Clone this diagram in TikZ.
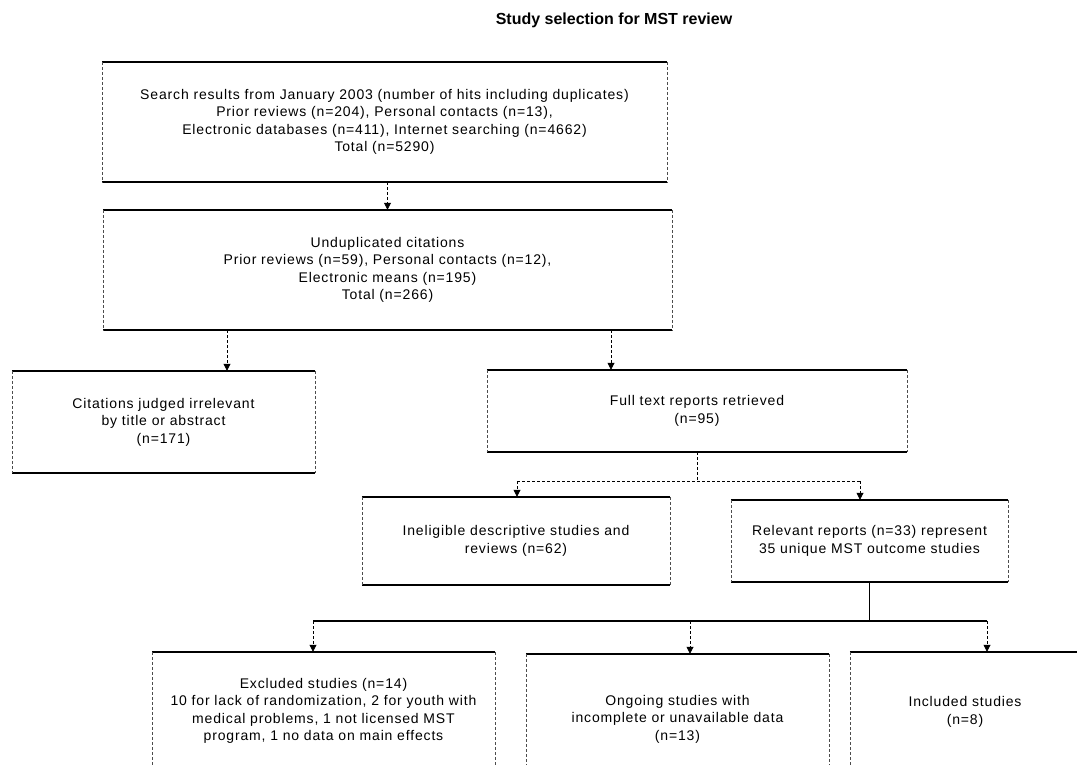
\documentclass[tikz,border=0pt]{standalone}
\usepackage{fontspec}
\setmainfont{Liberation Sans}
\usetikzlibrary{arrows.meta}
\newfontfamily\boxfontfam[LetterSpace=6]{Liberation Sans}
\newfontfamily\titlefontfam{Liberation Sans}
\newcommand\frameit[1]{%
  \draw[edgeline] (#1.north west) -- (#1.north east);
  \draw[edgeline] (#1.south west) -- (#1.south east);
  \draw[sideline] (#1.north west) -- (#1.south west);
  \draw[sideline] (#1.north east) -- (#1.south east);}
\tikzset{
  box/.style={draw=none, inner sep=0pt, align=center,
    font=\boxfontfam\fontsize{14}{17.5}\selectfont},
  edgeline/.style={black, line width=1.6pt},
  sideline/.style={black!70, line width=0.6pt, densely dashed},
  dconn/.style={black, line width=0.8pt, densely dashed},
  sconn/.style={black, line width=1.5pt},
  arr/.style={dconn, -{Triangle[length=7pt,width=7pt]}}
}
\begin{document}
\begin{tikzpicture}[x=1pt,y=-1pt]
\useasboundingbox (0,0) rectangle (1077,765);
\clip (0,0) rectangle (1077,765);

\node[font=\titlefontfam\bfseries\fontsize{16}{18}\selectfont] (title) at (614,20) {Study selection for MST review};

\node[box, minimum width=565pt, minimum height=120pt] (b1) at (384.5,122)
  {Search results from January 2003 (number of hits including duplicates)\\
   Prior reviews (n=204), Personal contacts (n=13),\\
   Electronic databases (n=411), Internet searching (n=4662)\\
   Total (n=5290)};
\node[box, minimum width=569pt, minimum height=120pt] (b2) at (387.5,270)
  {Unduplicated citations\\
   Prior reviews (n=59), Personal contacts (n=12),\\
   Electronic means (n=195)\\
   Total (n=266)};
\node[box, minimum width=303pt, minimum height=102pt] (b3) at (163.5,422)
  {Citations judged irrelevant\\ by title or abstract\\ (n=171)};
\node[box, minimum width=420pt, minimum height=82pt] (b4) at (697,411)
  {Full text reports retrieved\\ (n=95)};
\node[box, minimum width=308pt, minimum height=88pt] (b5) at (516,541)
  {Ineligible descriptive studies and\\ reviews (n=62)};
\node[box, minimum width=277pt, minimum height=82pt] (b6) at (869.5,541)
  {Relevant reports (n=33) represent\\ 35 unique MST outcome studies};
\node[box, minimum width=343pt, minimum height=118pt] (b7) at (323.5,711)
  {Excluded studies (n=14)\\
   10 for lack of randomization, 2 for youth with\\
   medical problems, 1 not licensed MST\\
   program, 1 no data on main effects};
\node[box, minimum width=303pt, minimum height=130pt] (b8) at (677.5,719)
  {Ongoing studies with\\ incomplete or unavailable data\\ (n=13)};
\node[box, minimum width=230pt, minimum height=120pt] (b9) at (965,712)
  {Included studies\\ (n=8)};

\frameit{b1}\frameit{b2}\frameit{b3}\frameit{b4}\frameit{b5}
\frameit{b6}\frameit{b7}\frameit{b8}\frameit{b9}

% connectors
\draw[arr] (b1.south -| b2.north) -- (b2.north);
\coordinate (p1) at (227,330);
\coordinate (p2) at (611,330);
\draw[arr] (p1) -- (p1 |- b3.north);
\draw[arr] (p2) -- (p2 |- b4.north);

\coordinate (hl) at (517,481);
\coordinate (hr) at (860,481);
\draw[dconn] (b4.south) -- (b4.south |- hl);
\draw[dconn] (hl) -- (hr);
\draw[arr] (hl) -- (hl |- b5.north);
\draw[arr] (hr) -- (hr |- b6.north);

\coordinate (bl) at (313,621);
\coordinate (bm) at (690,621);
\coordinate (br) at (987,621);
\draw[sconn] (b6.south) -- (b6.south |- bl);
\draw[sconn] (bl) -- (br);
\draw[arr] (bl) -- (bl |- b7.north);
\draw[arr] (bm) -- (bm |- b8.north);
\draw[arr] (br) -- (br |- b9.north);
\end{tikzpicture}
\end{document}
